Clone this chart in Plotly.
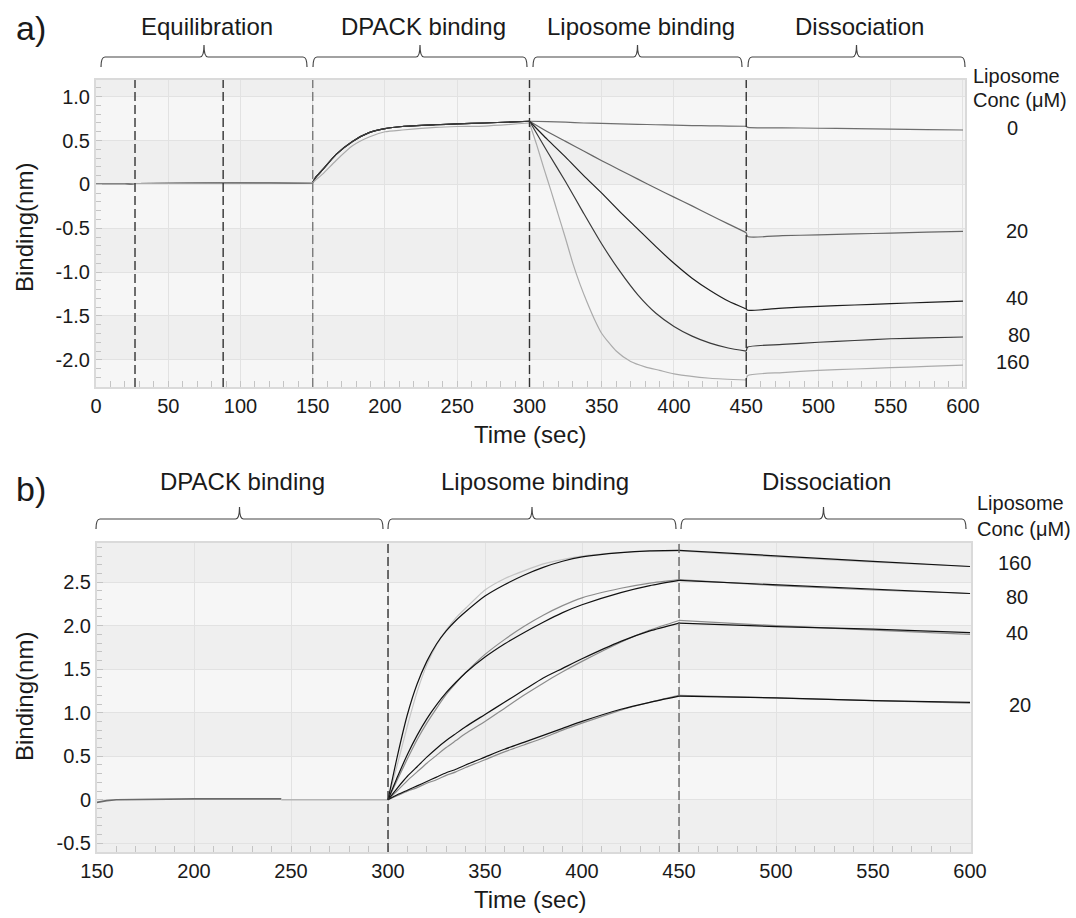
import plotly.graph_objects as go

W, H = 1076, 918
FONT = "Liberation Sans, Arial, sans-serif"

# ---------------- Panel a data ----------------
conc_a = ["0", "20", "40", "80", "160"]
colors_a = ["#6e6e6e", "#666666", "#1e1e1e", "#3a3a3a", "#ababab"]

t_a_base = [0, 20, 27, 60, 88, 120, 150]
y_a_base = [0.0, 0.0, 0.01, 0.01, 0.01, 0.015, 0.02]

t_a_dpack = [150, 152, 157, 166, 177.5, 189, 200, 212, 235, 250, 269, 300]
y_a_dpack_dark = [0.02, 0.08, 0.17, 0.34, 0.49, 0.59, 0.635, 0.66, 0.68, 0.69, 0.70, 0.72]
y_a_dpack_light = [0.02, 0.05, 0.12, 0.27, 0.44, 0.54, 0.60, 0.62, 0.65, 0.66, 0.665, 0.70]

t_a_lipo = [300, 312.5, 325, 337.5, 350, 362.5, 375, 387.5, 400, 412.5, 425, 437.5, 450]
y_a_lipo_0 = [0.72, 0.715, 0.71, 0.70, 0.695, 0.69, 0.685, 0.68, 0.675, 0.67, 0.668, 0.665, 0.663]
y_a_lipo_20 = [0.72, 0.60, 0.49, 0.38, 0.27, 0.165, 0.06, -0.045, -0.145, -0.245, -0.35, -0.45, -0.55]
y_a_lipo_40 = [0.72, 0.51, 0.31, 0.10, -0.10, -0.31, -0.51, -0.71, -0.90, -1.07, -1.21, -1.33, -1.42]
y_a_lipo_80 = [0.72, 0.37, 0.03, -0.33, -0.68, -0.99, -1.26, -1.47, -1.62, -1.73, -1.81, -1.865, -1.90]
t_a_lipo_160 = [300, 305, 310, 315, 320, 325, 330, 335, 340, 345, 350, 360, 370, 380, 390, 400, 425, 450]
y_a_lipo_160 = [0.70, 0.45, 0.18, -0.08, -0.35, -0.62, -0.90, -1.14, -1.35, -1.54, -1.70, -1.90, -2.02,
                -2.08, -2.12, -2.16, -2.21, -2.23]

t_a_diss = [450, 451, 475, 500, 525, 550, 575, 600]
y_a_diss_0 = [0.663, 0.65, 0.645, 0.64, 0.635, 0.63, 0.625, 0.62]
y_a_diss_20 = [-0.55, -0.595, -0.585, -0.575, -0.565, -0.555, -0.545, -0.535]
y_a_diss_40 = [-1.42, -1.435, -1.41, -1.39, -1.375, -1.36, -1.345, -1.33]
y_a_diss_80 = [-1.90, -1.855, -1.825, -1.80, -1.78, -1.76, -1.75, -1.74]
y_a_diss_160 = [-2.23, -2.18, -2.145, -2.12, -2.105, -2.09, -2.075, -2.06]

# ---------------- Panel b data ----------------
conc_b = ["160", "80", "40", "20"]

t_b_base_dark = [150, 152, 155, 160, 200, 245]
y_b_base_dark = [-0.03, -0.02, -0.01, 0.0, 0.01, 0.01]
t_b_base_light = [245, 300]
y_b_base_light = [0.0, 0.0]

t_b_lipo = [300, 305, 310, 315, 320, 325, 330, 335, 340, 350, 360, 370, 380, 390, 400, 420, 435, 450]
y_b_lipo_160_data = [0, 0.52, 0.98, 1.33, 1.59, 1.79, 1.94, 2.06, 2.16, 2.34, 2.47, 2.58, 2.67, 2.74, 2.79, 2.84, 2.86, 2.865]
y_b_lipo_160_fit = [0, 0.42, 0.85, 1.24, 1.55, 1.78, 1.95, 2.09, 2.20, 2.41, 2.54, 2.63, 2.71, 2.76, 2.80, 2.84, 2.855, 2.86]
y_b_lipo_80_data = [0, 0.27, 0.52, 0.74, 0.93, 1.09, 1.23, 1.35, 1.46, 1.64, 1.79, 1.92, 2.04, 2.15, 2.24, 2.38, 2.46, 2.52]
y_b_lipo_80_fit = [0, 0.24, 0.47, 0.69, 0.88, 1.05, 1.21, 1.34, 1.46, 1.67, 1.84, 1.99, 2.12, 2.23, 2.32, 2.43, 2.49, 2.53]
y_b_lipo_40_data = [0, 0.14, 0.27, 0.38, 0.49, 0.59, 0.68, 0.76, 0.84, 0.98, 1.12, 1.26, 1.40, 1.51, 1.62, 1.82, 1.94, 2.03]
y_b_lipo_40_fit = [0, 0.11, 0.22, 0.32, 0.42, 0.51, 0.60, 0.68, 0.76, 0.90, 1.05, 1.20, 1.34, 1.47, 1.59, 1.81, 1.95, 2.06]
y_b_lipo_20_data = [0, 0.06, 0.11, 0.16, 0.21, 0.26, 0.31, 0.35, 0.40, 0.49, 0.58, 0.66, 0.74, 0.82, 0.90, 1.04, 1.12, 1.19]
y_b_lipo_20_fit = [0, 0.05, 0.10, 0.14, 0.19, 0.23, 0.28, 0.32, 0.37, 0.46, 0.55, 0.63, 0.71, 0.80, 0.88, 1.03, 1.12, 1.20]

t_b_diss = [450, 500, 550, 600]
y_b_diss_160_data = [2.865, 2.80, 2.74, 2.68]
y_b_diss_160_fit = [2.86, 2.79, 2.73, 2.68]
y_b_diss_80_data = [2.52, 2.47, 2.42, 2.37]
y_b_diss_80_fit = [2.53, 2.46, 2.41, 2.37]
y_b_diss_40_data = [2.03, 1.99, 1.96, 1.92]
y_b_diss_40_fit = [2.06, 2.00, 1.95, 1.90]
y_b_diss_20_data = [1.19, 1.17, 1.14, 1.12]
y_b_diss_20_fit = [1.20, 1.17, 1.14, 1.11]

ytick_vals_a = [-2.0, -1.5, -1.0, -0.5, 0, 0.5, 1.0]
ytick_text_a = ["-2.0", "-1.5", "-1.0", "-0.5", "0", "0.5", "1.0"]
ytick_vals_b = [-0.5, 0, 0.5, 1.0, 1.5, 2.0, 2.5]
ytick_text_b = ["-0.5", "0", "0.5", "1.0", "1.5", "2.0", "2.5"]

phases_a = ["Equilibration", "DPACK binding", "Liposome binding", "Dissociation"]
phases_b = ["DPACK binding", "Liposome binding", "Dissociation"]


def px(x):
    return x / W


def py(y):
    return 1 - y / H


fig = go.Figure()


def add_line(x, y, color, xa="x", ya="y", shape="linear", width=1.2):
    fig.add_trace(go.Scatter(x=x, y=y, mode="lines", xaxis=xa, yaxis=ya,
                             line=dict(color=color, width=width, shape=shape, smoothing=0.6),
                             showlegend=False, hoverinfo="skip"))


# ---- panel a traces ----
lipo_a = [(t_a_lipo, y_a_lipo_0), (t_a_lipo, y_a_lipo_20), (t_a_lipo, y_a_lipo_40),
          (t_a_lipo, y_a_lipo_80), (t_a_lipo_160, y_a_lipo_160)]
diss_a = [y_a_diss_0, y_a_diss_20, y_a_diss_40, y_a_diss_80, y_a_diss_160]
for i, c in enumerate(colors_a):
    add_line(t_a_base, y_a_base, c)
    add_line(t_a_dpack, y_a_dpack_light if i == 4 else y_a_dpack_dark, c, shape="spline")
    add_line(lipo_a[i][0], lipo_a[i][1], c, shape="spline")
    add_line(t_a_diss, diss_a[i], c, shape="spline")

# ---- panel b traces ----
add_line(t_b_base_dark, y_b_base_dark, "#6a6a6a", "x2", "y2", width=1.6)
add_line(t_b_base_light, y_b_base_light, "#b5b5b5", "x2", "y2", width=1.6)
lipo_b = [(y_b_lipo_160_data, y_b_lipo_160_fit, y_b_diss_160_data, y_b_diss_160_fit, "#c4c4c4"),
          (y_b_lipo_80_data, y_b_lipo_80_fit, y_b_diss_80_data, y_b_diss_80_fit, "#8c8c8c"),
          (y_b_lipo_40_data, y_b_lipo_40_fit, y_b_diss_40_data, y_b_diss_40_fit, "#8c8c8c"),
          (y_b_lipo_20_data, y_b_lipo_20_fit, y_b_diss_20_data, y_b_diss_20_fit, "#8c8c8c")]
for ld, lf, dd, dfit, fc in lipo_b:
    add_line(t_b_lipo, lf, fc, "x2", "y2", shape="spline")
    add_line(t_b_diss, dfit, fc, "x2", "y2")
    add_line(t_b_lipo, ld, "#111111", "x2", "y2", shape="spline")
    add_line(t_b_diss, dd, "#111111", "x2", "y2")

shapes = []


def band(yref, y0, y1, color):
    shapes.append(dict(type="rect", xref=("x domain" if yref == "y" else "x2 domain"), yref=yref,
                       x0=0, x1=1, y0=y0, y1=y1, fillcolor=color, line=dict(width=0), layer="below"))


DARK = "#efefef"
for y0, y1 in [(1.0, 1.3), (0, 0.5), (-1.0, -0.5), (-2.0, -1.5)]:
    band("y", y0, y1, DARK)
for y0, y1 in [(2.5, 3.0), (1.5, 2.0), (0.5, 1.0), (-0.7, 0)]:
    band("y2", y0, y1, DARK)

for xv, col in [(27, "#333333"), (88, "#333333"), (150, "#7a7a7a"), (300, "#333333"), (450, "#333333")]:
    shapes.append(dict(type="line", xref="x", yref="y domain", x0=xv, x1=xv, y0=0, y1=1,
                       line=dict(color=col, width=1.4, dash="9px,4px"), layer="above"))
for xv, col in [(300, "#333333"), (450, "#666666")]:
    shapes.append(dict(type="line", xref="x2", yref="y2 domain", x0=xv, x1=xv, y0=0, y1=1,
                       line=dict(color=col, width=1.4, dash="9px,4px"), layer="above"))


def bracket(x0, x1, yline, yend, ytip):
    xm = (x0 + x1) / 2
    r = 4
    p = (f"M {px(x0)},{py(yend)} Q {px(x0)},{py(yline)} {px(x0 + r)},{py(yline)} "
         f"L {px(xm - r)},{py(yline)} Q {px(xm)},{py(yline)} {px(xm)},{py(ytip)} "
         f"Q {px(xm)},{py(yline)} {px(xm + r)},{py(yline)} "
         f"L {px(x1 - r)},{py(yline)} Q {px(x1)},{py(yline)} {px(x1)},{py(yend)}")
    shapes.append(dict(type="path", xref="paper", yref="paper", path=p,
                       line=dict(color="#444444", width=1.2), layer="above"))


br_a = [(101, 307), (313, 527), (533, 742), (748, 965)]
br_b = [(96, 383), (388, 676), (681, 966)]
for x0, x1 in br_a:
    bracket(x0, x1, 57, 67, 45)
for x0, x1 in br_b:
    bracket(x0, x1, 519, 529, 507)

ann = []


def text(x, y, s, size, anchor="center", angle=0):
    ann.append(dict(x=px(x), y=py(y), xref="paper", yref="paper", text=s, showarrow=False,
                    xanchor=anchor, yanchor="middle", textangle=angle,
                    font=dict(family=FONT, size=size, color="#1a1a1a")))


for (x0, x1), lab in zip(br_a, phases_a):
    text((x0 + x1) / 2 + 3, 26, lab, 24)
for (x0, x1), lab in zip(br_b, phases_b):
    text((x0 + x1) / 2 + 3, 482, lab, 24)

text(31, 28, "a)", 34)
text(31, 489, "b)", 34)
text(530, 434, "Time (sec)", 24)
text(530, 899, "Time (sec)", 24)
text(24, 228, "Binding(nm)", 24, angle=-90)
text(24, 697, "Binding(nm)", 24, angle=-90)

text(971, 76, "Liposome", 20, anchor="left")
text(971, 100, "Conc (μM)", 20, anchor="left")
for lab, x, y in zip(conc_a, [1012, 1017, 1017, 1019, 1012], [128, 231, 298, 335, 362]):
    text(x, y, lab, 20)
text(975, 503, "Liposome", 20, anchor="left")
text(975, 529, "Conc (μM)", 20, anchor="left")
for lab, x, y in zip(conc_b, [1014, 1017, 1017, 1020], [563, 597, 633, 705]):
    text(x, y, lab, 20)

axis_common = dict(showgrid=True, gridcolor="#e2e2e2", gridwidth=1, zeroline=False,
                   showline=True, linecolor="#dadada", linewidth=2, mirror=True,
                   ticks="inside", ticklen=6, tickcolor="#c4c4c4", automargin=False,
                   tickfont=dict(family=FONT, size=20, color="#1a1a1a"))

fig.update_layout(
    template="none",
    width=W, height=H, margin=dict(l=0, r=0, t=0, b=0, pad=0),
    paper_bgcolor="white", plot_bgcolor="#f6f6f6",
    shapes=shapes, annotations=ann, showlegend=False, hovermode=False,
    xaxis=dict(domain=[px(96), px(965)], range=[0, 601.4], anchor="y", dtick=50, tick0=0,
               minor=dict(dtick=10, ticks="inside", ticklen=6, tickcolor="#c4c4c4", showgrid=False),
               **axis_common),
    yaxis=dict(domain=[py(387), py(80)], range=[-2.31, 1.19], anchor="x",
               tickvals=ytick_vals_a, ticktext=ytick_text_a,
               minor=dict(dtick=0.1, ticks="inside", ticklen=5, tickcolor="#c4c4c4", showgrid=False),
               **axis_common),
    xaxis2=dict(domain=[px(97), px(971)], range=[150, 600.5], anchor="y2", dtick=50, tick0=0,
                minor=dict(dtick=10, ticks="inside", ticklen=6, tickcolor="#c4c4c4", showgrid=False),
                **axis_common),
    yaxis2=dict(domain=[py(852), py(543)], range=[-0.6, 2.95], anchor="x2",
                tickvals=ytick_vals_b, ticktext=ytick_text_b,
                minor=dict(dtick=0.1, ticks="inside", ticklen=5, tickcolor="#c4c4c4", showgrid=False),
                **axis_common),
)

# remove the default 8px page margin so the figure fills the 1076x918 window exactly
fig.write_html("out.html", config={"displayModeBar": False},
               post_script="document.body.style.margin='0';document.body.style.overflow='hidden';")
